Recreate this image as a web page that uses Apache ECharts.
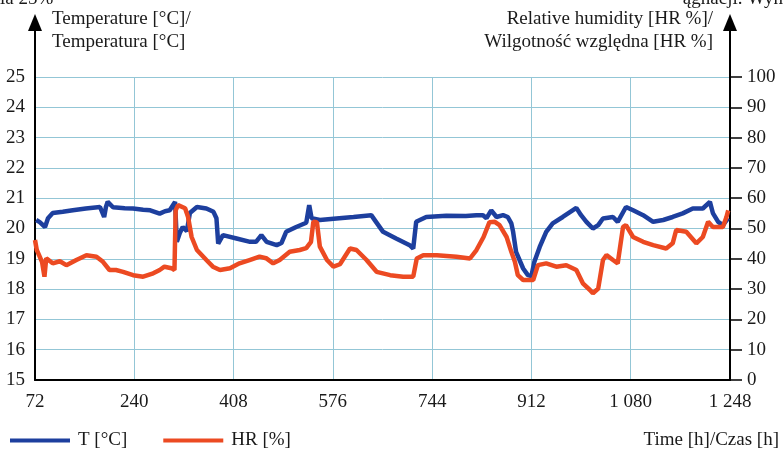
<!DOCTYPE html>
<html>
<head>
<meta charset="utf-8">
<script src="https://cdn.jsdelivr.net/npm/echarts@6/dist/echarts.min.js"></script>
<style>
  html, body { margin: 0; padding: 0; background: #ffffff; }
  #chart { width: 783px; height: 452px; }
</style>
</head>
<body>
<div id="chart"></div>
<script>
// Time axis: hours of measurement, first tick at 72 h, step 168 h (one week)
const TIME_START = 72;
const TIME_END = 1248;
const TIME_STEP = 168;

// Temperature [°C] readings
const tempHours = [74, 80, 89, 94, 102, 119, 136, 158, 182, 189, 192, 195, 204, 224, 238, 255, 267, 283, 292, 300,
  309, 312, 317, 322, 329, 334, 346, 362, 374, 379, 382, 390, 413, 436, 446, 455, 464, 481, 489, 497,
  514, 531, 536, 540, 554, 582, 611, 641, 649, 661, 683, 706, 712, 717, 734, 768, 801, 819, 830, 836,
  844, 853, 864, 872, 878, 881, 886, 898, 906, 912, 917, 926, 937, 948, 965, 988, 996, 1005, 1016, 1025,
  1033, 1050, 1058, 1072, 1084, 1101, 1118, 1135, 1151, 1168, 1185, 1202, 1214, 1219, 1228, 1236, 1245];
const tempValues = [20.28, 20.21, 20.05, 20.34, 20.51, 20.55, 20.60, 20.66, 20.71, 20.38, 20.71, 20.88, 20.70, 20.67, 20.66, 20.62, 20.60, 20.49, 20.57, 20.60,
  20.88, 19.56, 19.85, 20.05, 19.91, 20.51, 20.71, 20.66, 20.55, 20.34, 19.50, 19.78, 19.67, 19.56, 19.56, 19.78, 19.56, 19.45, 19.52, 19.89,
  20.05, 20.19, 20.77, 20.34, 20.28, 20.33, 20.38, 20.44, 20.22, 19.89, 19.67, 19.45, 19.34, 20.22, 20.38, 20.42, 20.41, 20.44, 20.44, 20.34,
  20.60, 20.38, 20.44, 20.38, 20.17, 19.89, 19.23, 18.68, 18.46, 18.43, 18.90, 19.39, 19.89, 20.17, 20.38, 20.68, 20.44, 20.22, 20.00, 20.11,
  20.33, 20.38, 20.22, 20.71, 20.60, 20.44, 20.22, 20.28, 20.38, 20.50, 20.66, 20.66, 20.88, 20.51, 20.22, 20.11, 20.34];

// Relative humidity [%] readings
const hrHours = [72, 75, 80, 84, 88, 91, 102, 114, 125, 142, 159, 176, 187, 198, 209, 221, 238, 255, 272, 283,
  291, 303, 308, 310, 314, 326, 331, 337, 346, 362, 373, 385, 402, 418, 435, 452, 463, 475, 486, 503,
  520, 531, 539, 543, 549, 554, 566, 577, 588, 605, 616, 633, 650, 673, 695, 712, 718, 729, 752, 785,
  808, 819, 831, 841, 850, 858, 870, 878, 884, 889, 898, 915, 923, 937, 954, 971, 988, 999, 1011, 1016,
  1025, 1033, 1039, 1050, 1058, 1067, 1072, 1084, 1101, 1118, 1140, 1151, 1157, 1174, 1191, 1202, 1211, 1219, 1236, 1242, 1245];
const hrValues = [46.2, 42.9, 40.7, 38.9, 34.1, 40.2, 38.5, 39.2, 37.9, 39.6, 41.2, 40.7, 39.0, 36.3, 36.3, 35.7, 34.6, 34.1, 35.2, 36.3,
  37.4, 36.9, 36.3, 56.0, 57.7, 56.7, 53.8, 47.2, 42.9, 39.6, 37.4, 36.3, 36.9, 38.5, 39.6, 40.7, 40.2, 38.5, 39.6, 42.3,
  42.9, 43.5, 45.6, 52.2, 52.1, 44.0, 39.6, 37.4, 38.2, 43.4, 42.9, 39.6, 35.7, 34.6, 34.1, 34.1, 40.1, 41.2, 41.2, 40.7,
  40.1, 42.9, 47.2, 52.1, 52.2, 51.1, 47.2, 42.3, 39.0, 34.6, 33.0, 33.0, 37.9, 38.5, 37.4, 37.9, 36.3, 31.9, 29.7, 28.6,
  30.2, 39.6, 41.2, 39.6, 38.5, 50.5, 51.1, 47.2, 45.6, 44.5, 43.4, 45.1, 49.5, 48.9, 45.1, 47.2, 52.2, 50.5, 50.5, 53.8, 56.0];

// Axis ranges
const tempMin = 15, tempMax = 25, tempStep = 1;
const hrMin = 0, hrMax = 100, hrStep = 10;

const seriesNames = ['T [°C]', 'HR [%]'];
const leftTitle = ['Temperature [°C]/', 'Temperatura [°C]'];
const rightTitle = ['Relative humidity [HR %]/', 'Wilgotność względna [HR %]'];
const timeTitle = 'Time [h]/Czas [h]';

const FONT = '"Liberation Serif", "Times New Roman", serif';
const TEXT = '#1a1a1a';
const GRIDLINE = '#93c6d6';
const BLUE = '#1d3f9e';
const ORANGE = '#ec4a22';

const G = { left: 35, right: 53, top: 77, bottom: 72 };
const W = 783, H = 452;

function fmtHours(v) {
  const n = Math.round(v + TIME_START);
  if (n >= 1000) {
    return Math.floor(n / 1000) + ' ' + String(n % 1000).padStart(3, '0');
  }
  return String(n);
}

const tempData = tempHours.map((h, i) => [h - TIME_START, tempValues[i]]);
const hrData = hrHours.map((h, i) => [h - TIME_START, hrValues[i]]);

const chart = echarts.init(document.getElementById('chart'), null, { renderer: 'canvas' });

const axisX1 = G.left, axisX2 = W - G.right, arrowTip = 14;
const titleFont = '19px ' + FONT;

chart.setOption({
  animation: false,
  backgroundColor: '#ffffff',
  textStyle: { fontFamily: FONT },
  grid: { left: G.left, right: G.right, top: G.top, bottom: G.bottom, containLabel: false },
  legend: {
    left: 10, top: 431, padding: 0,
    itemWidth: 60, itemHeight: 4, itemGap: 36,
    icon: 'rect',
    textStyle: { fontFamily: FONT, fontSize: 19, color: TEXT, padding: [0, 0, 0, 3] },
    data: seriesNames
  },
  xAxis: {
    type: 'value',
    min: 0, max: TIME_END - TIME_START, interval: TIME_STEP,
    axisLine: { show: true, onZero: false, lineStyle: { color: '#000', width: 2 } },
    axisTick: { show: false },
    axisLabel: { fontFamily: FONT, fontSize: 19, color: TEXT, margin: 13, formatter: fmtHours },
    splitLine: { show: true, lineStyle: { color: GRIDLINE, width: 1 } }
  },
  yAxis: [
    {
      type: 'value', position: 'left',
      min: tempMin, max: tempMax, interval: tempStep,
      axisLine: { show: true, lineStyle: { color: '#000', width: 2 } },
      axisTick: { show: false },
      axisLabel: { fontFamily: FONT, fontSize: 19, color: TEXT, margin: 10 },
      splitLine: { show: true, lineStyle: { color: GRIDLINE, width: 1 } }
    },
    {
      type: 'value', position: 'right',
      min: hrMin, max: hrMax, interval: hrStep,
      axisLine: { show: true, lineStyle: { color: '#000', width: 2 } },
      axisTick: { show: true, inside: false, length: 12, lineStyle: { color: '#000', width: 1.5 } },
      axisLabel: { fontFamily: FONT, fontSize: 19, color: TEXT, margin: 17 },
      splitLine: { show: false }
    }
  ],
  series: [
    {
      name: seriesNames[0], type: 'line', yAxisIndex: 0,
      data: tempData, showSymbol: false, symbol: 'none',
      lineStyle: { color: BLUE, width: 4.5 }, itemStyle: { color: BLUE },
      z: 3
    },
    {
      name: seriesNames[1], type: 'line', yAxisIndex: 1,
      data: hrData, showSymbol: false, symbol: 'none',
      lineStyle: { color: ORANGE, width: 4.5 }, itemStyle: { color: ORANGE },
      z: 4
    }
  ],
  graphic: [
    // axis extensions with arrow heads above the plot area
    { type: 'line', shape: { x1: axisX1, y1: G.top, x2: axisX1, y2: arrowTip + 10 }, style: { stroke: '#000', lineWidth: 2 } },
    { type: 'polygon', shape: { points: [[axisX1, arrowTip], [axisX1 - 7, arrowTip + 17], [axisX1 + 7, arrowTip + 17]] }, style: { fill: '#000' } },
    { type: 'line', shape: { x1: axisX2, y1: G.top, x2: axisX2, y2: arrowTip + 10 }, style: { stroke: '#000', lineWidth: 2 } },
    { type: 'polygon', shape: { points: [[axisX2, arrowTip], [axisX2 - 7, arrowTip + 17], [axisX2 + 7, arrowTip + 17]] }, style: { fill: '#000' } },
    // axis titles
    { type: 'text', left: 52, top: 10, style: { text: leftTitle[0], font: titleFont, fill: TEXT } },
    { type: 'text', left: 52, top: 33, style: { text: leftTitle[1], font: titleFont, fill: TEXT } },
    { type: 'text', right: W - 713, top: 10, style: { text: rightTitle[0], font: titleFont, fill: TEXT } },
    { type: 'text', right: W - 713, top: 33, style: { text: rightTitle[1], font: titleFont, fill: TEXT } },
    { type: 'text', right: 4, top: 431, style: { text: timeTitle, font: titleFont, fill: TEXT } },
    // running text of the page, cut by the top edge
    { type: 'text', left: 0, top: -10, style: { text: 'ła 25%', font: titleFont, fill: TEXT } },
    { type: 'text', right: 0, top: -10, style: { text: 'ągnacji. Wyn', font: titleFont, fill: TEXT } }
  ]
});
</script>
</body>
</html>
